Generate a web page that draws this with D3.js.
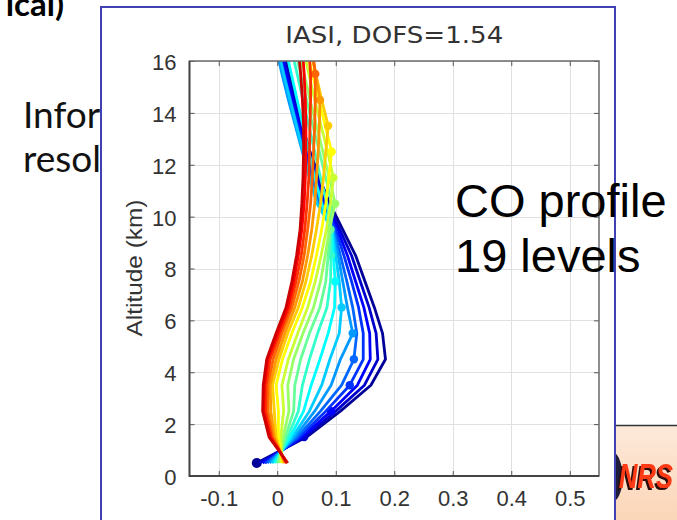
<!DOCTYPE html>
<html>
<head>
<meta charset="utf-8">
<script src="https://cdn.jsdelivr.net/npm/d3@7"></script>
<style>
  html, body { margin: 0; padding: 0; background: #fff; }
  svg { display: block; }
</style>
</head>
<body>
<svg id="slide" width="677" height="520"></svg>
<script>
// ---- data -------------------------------------------------------------
// Altitude grid (km) on which every averaging-kernel row is sampled
const altitudes = [0.5, 1.5, 2.5, 3.5, 4.5, 5.5, 6.5, 7.5, 8.5, 9.5,
                   10.5, 11.5, 12.5, 13.5, 14.5, 15.5, 16.5];
// Nominal altitude (km) of each of the 19 retrieval levels
const retrievalLevels = [0.5, 1.5, 2.5, 3.5, 4.5, 5.5, 6.5, 7.5, 8.5, 9.5,
                         10.5, 11.5, 12.5, 13.5, 14.5, 15.5, 16.5, 17.5, 18.5];
// Averaging-kernel rows, one per retrieval level (surface first)
const kernelL01 = [-0.035, 0.050, 0.108, 0.160, 0.185, 0.180, 0.166, 0.150, 0.134, 0.112, 0.090, 0.072, 0.056, 0.043, 0.031, 0.020, 0.010];
const kernelL02 = [-0.030, 0.046, 0.100, 0.149, 0.172, 0.169, 0.157, 0.142, 0.127, 0.107, 0.086, 0.069, 0.054, 0.041, 0.029, 0.018, 0.008];
const kernelL03 = [-0.025, 0.042, 0.092, 0.137, 0.159, 0.158, 0.148, 0.134, 0.120, 0.103, 0.082, 0.066, 0.051, 0.038, 0.026, 0.015, 0.005];
const kernelL04 = [-0.021, 0.038, 0.083, 0.124, 0.147, 0.147, 0.139, 0.127, 0.114, 0.100, 0.078, 0.062, 0.048, 0.035, 0.023, 0.012, 0.002];
const kernelL05 = [-0.017, 0.034, 0.074, 0.110, 0.131, 0.136, 0.129, 0.119, 0.108, 0.097, 0.073, 0.058, 0.045, 0.033, 0.021, 0.010, 0.000];
const kernelL06 = [-0.013, 0.030, 0.064, 0.092, 0.108, 0.129, 0.120, 0.112, 0.104, 0.095, 0.069, 0.055, 0.043, 0.031, 0.019, 0.008, -0.002];
const kernelL07 = [-0.009, 0.026, 0.055, 0.076, 0.090, 0.106, 0.110, 0.106, 0.100, 0.094, 0.068, 0.055, 0.044, 0.033, 0.022, 0.011, 0.001];
const kernelL08 = [-0.005, 0.022, 0.045, 0.058, 0.073, 0.087, 0.098, 0.099, 0.096, 0.093, 0.076, 0.064, 0.054, 0.044, 0.034, 0.024, 0.014];
const kernelL09 = [-0.002, 0.018, 0.036, 0.043, 0.055, 0.069, 0.085, 0.091, 0.092, 0.092, 0.085, 0.074, 0.064, 0.054, 0.044, 0.034, 0.024];
const kernelL10 = [0.001, 0.014, 0.028, 0.030, 0.040, 0.055, 0.073, 0.083, 0.087, 0.091, 0.093, 0.083, 0.072, 0.061, 0.050, 0.040, 0.030];
const kernelL11 = [0.004, 0.010, 0.020, 0.018, 0.028, 0.044, 0.062, 0.074, 0.082, 0.089, 0.099, 0.089, 0.078, 0.067, 0.056, 0.046, 0.036];
const kernelL12 = [0.007, 0.006, 0.011, 0.008, 0.019, 0.035, 0.052, 0.065, 0.075, 0.084, 0.091, 0.096, 0.086, 0.075, 0.064, 0.054, 0.044];
const kernelL13 = [0.009, 0.002, 0.002, -0.002, 0.009, 0.025, 0.043, 0.057, 0.067, 0.076, 0.083, 0.088, 0.093, 0.082, 0.071, 0.060, 0.050];
const kernelL14 = [0.011, -0.002, -0.005, -0.008, 0.003, 0.018, 0.036, 0.049, 0.059, 0.067, 0.074, 0.079, 0.083, 0.087, 0.076, 0.066, 0.056];
const kernelL15 = [0.013, -0.005, -0.011, -0.012, -0.002, 0.013, 0.030, 0.043, 0.052, 0.059, 0.064, 0.067, 0.070, 0.072, 0.073, 0.066, 0.057];
const kernelL16 = [0.015, -0.008, -0.016, -0.016, -0.007, 0.008, 0.025, 0.037, 0.046, 0.052, 0.057, 0.060, 0.062, 0.064, 0.065, 0.065, 0.060];
const kernelL17 = [0.016, -0.010, -0.020, -0.019, -0.012, 0.004, 0.021, 0.032, 0.041, 0.047, 0.051, 0.054, 0.055, 0.056, 0.057, 0.057, 0.054];
const kernelL18 = [0.017, -0.012, -0.023, -0.022, -0.016, 0.001, 0.018, 0.028, 0.036, 0.042, 0.046, 0.048, 0.049, 0.049, 0.048, 0.046, 0.043];
const kernelL19 = [0.018, -0.014, -0.025, -0.024, -0.018, -0.002, 0.015, 0.025, 0.033, 0.039, 0.042, 0.044, 0.045, 0.045, 0.043, 0.040, 0.036];

const xTickValues = [-0.1, 0, 0.1, 0.2, 0.3, 0.4, 0.5];
const yTickValues = [0, 2, 4, 6, 8, 10, 12, 14, 16];
const chartTitle = "IASI, DOFS=1.54";
const yAxisTitle = "Altitude (km)";
const sideNote = ["CO profile", "19 levels"];
const slideLines = ["Infor", "resol"];
const slideHeading = "ical)";
const logoText = "NRS";

const kernels = [kernelL01, kernelL02, kernelL03, kernelL04, kernelL05, kernelL06, kernelL07,
                 kernelL08, kernelL09, kernelL10, kernelL11, kernelL12, kernelL13, kernelL14,
                 kernelL15, kernelL16, kernelL17, kernelL18, kernelL19];

// MATLAB-style jet(m) colormap
function jet(m) {
  const n = Math.ceil(m / 4);
  const u = [];
  for (let i = 1; i <= n; i++) u.push(i / n);
  for (let i = 1; i < n; i++) u.push(1);
  for (let i = n; i >= 1; i--) u.push(i / n);
  const off = Math.ceil(n / 2) - (m % 4 === 1 ? 1 : 0);
  const cols = Array.from({length: m}, () => [0, 0, 0]);
  u.forEach((v, k) => {
    const g = off + k + 1, r = g + n, b = g - n;
    if (r >= 1 && r <= m) cols[r - 1][0] = v;
    if (g >= 1 && g <= m) cols[g - 1][1] = v;
    if (b >= 1 && b <= m) cols[b - 1][2] = v;
  });
  return cols.map(c => d3.rgb(c[0] * 255, c[1] * 255, c[2] * 255).formatHex());
}
const levelColors = jet(kernels.length);

// ---- drawing ----------------------------------------------------------
const svg = d3.select("#slide");
const defs = svg.append("defs");
svg.append("rect").attr("width", 677).attr("height", 520).attr("fill", "#fff");

// slide content behind the figure panel
defs.append("clipPath").attr("id", "slideLeft").append("rect")
  .attr("x", 0).attr("y", 0).attr("width", 101).attr("height", 520);
const slideText = svg.append("g").attr("clip-path", "url(#slideLeft)");
slideText.append("text").attr("x", 64).attr("y", 16).attr("text-anchor", "end")
  .attr("font-family", "Lato, 'Open Sans', sans-serif").attr("font-weight", 700)
  .attr("font-size", 33).attr("fill", "#000").text(slideHeading);
slideLines.forEach((s, i) => {
  slideText.append("text").attr("x", 23).attr("y", 128 + i * 44)
    .attr("font-family", "Lato, 'Open Sans', sans-serif")
    .attr("font-size", 37).attr("fill", "#111").text(s);
});

// logo block at bottom right
const lg = defs.append("linearGradient").attr("id", "logoBg")
  .attr("x1", 0).attr("y1", 0).attr("x2", 0).attr("y2", 1);
lg.append("stop").attr("offset", "0%").attr("stop-color", "#fde9da");
lg.append("stop").attr("offset", "100%").attr("stop-color", "#fbd6b8");
const shadow = defs.append("filter").attr("id", "logoShadow")
  .attr("x", "-20%").attr("y", "-20%").attr("width", "140%").attr("height", "140%");
shadow.append("feDropShadow").attr("dx", -2).attr("dy", 2).attr("stdDeviation", 0.6)
  .attr("flood-color", "#2a0d0d").attr("flood-opacity", 1);
svg.append("rect").attr("x", 600).attr("y", 425).attr("width", 77).attr("height", 95)
  .attr("fill", "url(#logoBg)");
svg.append("line").attr("x1", 600).attr("x2", 677).attr("y1", 425.5).attr("y2", 425.5)
  .attr("stroke", "#333").attr("stroke-width", 1.5);
svg.append("path").attr("d", "M614,452 C624,458 626,490 616,500 L614,500 Z")
  .attr("fill", "#1d1d3a");
svg.append("text").attr("x", 619).attr("y", 488).attr("textLength", 54)
  .attr("lengthAdjust", "spacingAndGlyphs")
  .attr("font-family", "'Liberation Sans', Arial, sans-serif")
  .attr("font-weight", 700).attr("font-style", "italic").attr("font-size", 35)
  .attr("fill", "#ff3a14").attr("filter", "url(#logoShadow)").text(logoText);

// figure panel
svg.append("rect").attr("x", 101).attr("y", 7).attr("width", 514).attr("height", 530)
  .attr("fill", "#fff").attr("stroke", "#4040b0").attr("stroke-width", 2);

const plot = {left: 189.5, right: 599, top: 61, bottom: 476};
const x = d3.scaleLinear().domain([-0.15, 0.55]).range([plot.left, plot.right]);
const y = d3.scaleLinear().domain([0, 16]).range([plot.bottom, plot.top]);

// grid
const grid = svg.append("g").attr("stroke", "#e0e0e0").attr("stroke-width", 1);
grid.selectAll(".gx").data(xTickValues).join("line")
  .attr("x1", d => Math.round(x(d)) + 0.5).attr("x2", d => Math.round(x(d)) + 0.5)
  .attr("y1", plot.top).attr("y2", plot.bottom);
grid.selectAll(".gy").data(yTickValues).join("line")
  .attr("y1", d => Math.round(y(d)) + 0.5).attr("y2", d => Math.round(y(d)) + 0.5)
  .attr("x1", plot.left).attr("x2", plot.right);

// kernel curves
defs.append("clipPath").attr("id", "plotClip").append("rect")
  .attr("x", plot.left).attr("y", plot.top)
  .attr("width", plot.right - plot.left).attr("height", plot.bottom - plot.top);
const line = d3.line().x(d => x(d)).y((d, i) => y(altitudes[i]));
const curves = svg.append("g").attr("clip-path", "url(#plotClip)");
kernels.forEach((row, k) => {
  const g = curves.append("g");
  g.append("path").attr("d", line(row)).attr("fill", "none")
    .attr("stroke", levelColors[k]).attr("stroke-width", 2.8)
    .attr("stroke-linejoin", "round");
  const idx = altitudes.indexOf(retrievalLevels[k]);
  if (idx >= 0) {
    g.append("circle").attr("cx", x(row[idx])).attr("cy", y(retrievalLevels[k]))
      .attr("r", k === 0 ? 5 : 4.2).attr("fill", levelColors[k]);
  }
});

// axes (inward ticks on all four sides)
const fmt = d => String(d);
const axisFont = "'Liberation Sans', Arial, sans-serif";
const xAxis = svg.append("g").attr("transform", `translate(0,${plot.bottom})`)
  .call(d3.axisBottom(x).tickValues(xTickValues).tickFormat(fmt).tickSizeInner(-5).tickSizeOuter(0).tickPadding(14));
const yAxis = svg.append("g").attr("transform", `translate(${plot.left},0)`)
  .call(d3.axisLeft(y).tickValues(yTickValues).tickFormat(fmt).tickSizeInner(-5).tickSizeOuter(0).tickPadding(13));
const xTop = svg.append("g").attr("transform", `translate(0,${plot.top})`)
  .call(d3.axisTop(x).tickValues(xTickValues).tickFormat("").tickSizeInner(-5).tickSizeOuter(0));
const yRight = svg.append("g").attr("transform", `translate(${plot.right},0)`)
  .call(d3.axisRight(y).tickValues(yTickValues).tickFormat("").tickSizeInner(-5).tickSizeOuter(0));
[xAxis, yAxis, xTop, yRight].forEach(a => {
  a.select(".domain").remove();
  a.selectAll(".tick line").attr("stroke", "#555");
  a.selectAll("text").attr("font-family", axisFont).attr("font-size", 22).attr("fill", "#333");
});
xAxis.selectAll("text").attr("dy", "0.71em");
yAxis.selectAll("text").attr("dy", "0.38em");

// axes box
svg.append("rect").attr("x", plot.left).attr("y", plot.top)
  .attr("width", plot.right - plot.left).attr("height", plot.bottom - plot.top)
  .attr("fill", "none").attr("stroke", "#6a6a6a").attr("stroke-width", 1.5);
svg.append("path").attr("d", `M${plot.left},${plot.top}V${plot.bottom}H${plot.right}`)
  .attr("fill", "none").attr("stroke", "#444").attr("stroke-width", 1.8);

// titles
svg.append("text").attr("x", (plot.left + plot.right) / 2).attr("y", 43)
  .attr("text-anchor", "middle").attr("font-family", "'DejaVu Sans', Verdana, sans-serif")
  .attr("font-size", 23).attr("fill", "#333")
  .attr("textLength", 218).attr("lengthAdjust", "spacingAndGlyphs").text(chartTitle);
svg.append("text").attr("transform", `translate(142,268) rotate(-90)`)
  .attr("text-anchor", "middle").attr("font-family", axisFont)
  .attr("font-size", 22).attr("fill", "#333")
  .attr("textLength", 137).attr("lengthAdjust", "spacingAndGlyphs").text(yAxisTitle);

// side annotation
sideNote.forEach((s, i) => {
  svg.append("text").attr("x", 455).attr("y", 217 + i * 55)
    .attr("font-family", axisFont).attr("font-size", 47).attr("fill", "#000").text(s);
});
</script>
</body>
</html>
